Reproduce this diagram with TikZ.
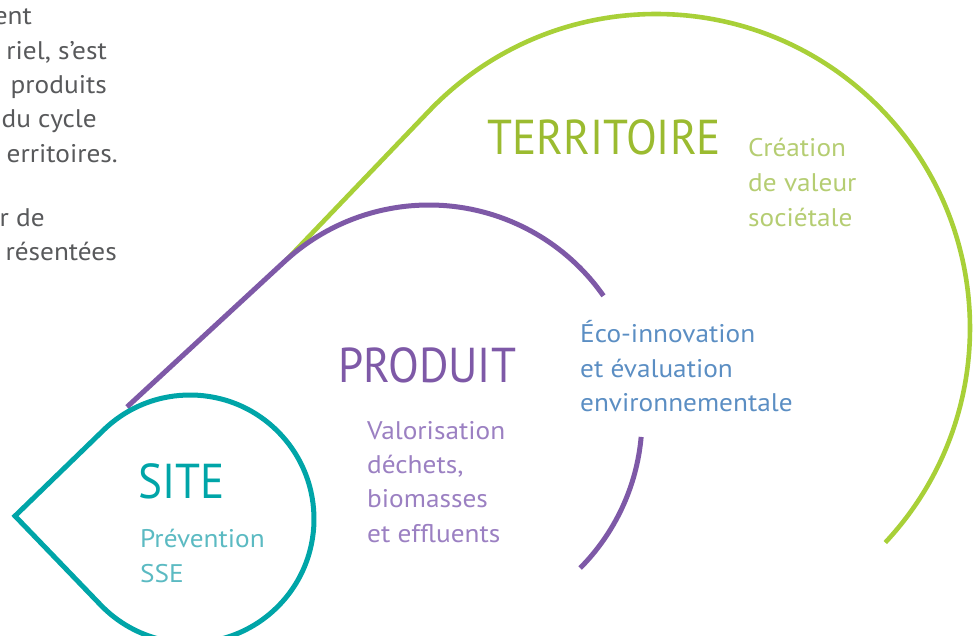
\documentclass[tikz,border=0pt]{standalone}
\usepackage{fontspec}
\setmainfont{PT Sans}[FakeStretch=1.07]
\newfontfamily\titlefont[FakeStretch=0.92]{PT Sans}
\usetikzlibrary{calc}
\definecolor{tealL}{HTML}{00A5A8}
\definecolor{tealS}{HTML}{5BBAC2}
\definecolor{purpL}{HTML}{7E59A7}
\definecolor{purpS}{HTML}{9B80C2}
\definecolor{greenL}{HTML}{A8D038}
\definecolor{greenT}{HTML}{9BBB30}
\definecolor{greenS}{HTML}{B5CD72}
\definecolor{blueS}{HTML}{5B8EC3}
\definecolor{greyT}{HTML}{58595B}
\begin{document}
\begin{tikzpicture}[x=1pt,y=-1pt,
  lineA/.style={line width=5pt, line join=miter, line cap=butt},
  titletext/.style={font=\titlefont\fontsize{49}{49}\selectfont, inner sep=0pt, anchor=base west},
  subtext/.style={font=\fontsize{25.5}{30}\selectfont, inner sep=0pt, anchor=base west},
  paratext/.style={font=\fontsize{25.5}{30}\selectfont, inner sep=0pt, anchor=base east, text=greyT}]
\useasboundingbox (0,0) rectangle (978,636);
\clip (0,0) rectangle (978,636);
% centres
\coordinate (c1) at (190,519);
\coordinate (tip) at (15,516);
\coordinate (c2) at (429,418);
\coordinate (p0) at (127,407);
\coordinate (c3) at (656,328);
\coordinate (g0) at ($(c2)+(-131.5:213)$);
% green (territoire)
\draw[lineA, greenL, line width=4.6pt] (g0) -- ($(c3)+(-136.4:314)$) arc[start angle=-136.4, end angle=43.1, radius=314];
% purple (produit)
\draw[lineA, purpL] (p0) -- ($(c2)+(-132.7:213)$) arc[start angle=-132.7, end angle=-35, radius=213];
\draw[lineA, purpL] ($(c2)+(5.1:213)$) arc[start angle=5.1, end angle=44.8, radius=213];
% teal (site)
\draw[lineA, tealL] (tip) -- ($(c1)+(-134.1:124)$) arc[start angle=-134.1, end angle=136.1, radius=124] -- cycle;
% paragraph fragments
\node[paratext] (pa1) at (32,25) {ent};
\node[paratext] (pa2) at (107,60) {riel, s’est};
\node[paratext] (pa3) at (107,94) {produits};
\node[paratext] (pa4) at (97,128) {du cycle};
\node[paratext] (pa5) at (118,163) {erritoires.};
\node[paratext] (pa6) at (45,227) {r de};
\node[paratext] (pa7) at (117,261) {résentées};
% SITE
\node[titletext, text=tealL] (siteT) at (138,498) {SITE};
\node[subtext, text=tealS] (siteA) at (140,547) {Prévention};
\node[subtext, text=tealS] (siteB) at (140,582) {SSE};
% PRODUIT
\node[titletext, text=purpL] (prodT) at (338,383) {PRODUIT};
\node[subtext, text=purpS] (prodA) at (367,439) {Valorisation};
\node[subtext, text=purpS] (prodB) at (367,473) {déchets,};
\node[subtext, text=purpS] (prodC) at (367,507) {biomasses};
\node[subtext, text=purpS] (prodD) at (367,542) {et effluents};
% eco-innovation
\node[subtext, text=blueS] (ecoA) at (580,343) {Éco-innovation};
\node[subtext, text=blueS] (ecoB) at (580,378) {et évaluation};
\node[subtext, text=blueS] (ecoC) at (580,412) {environnementale};
% TERRITOIRE
\node[titletext, text=greenT] (terT) at (487,155) {TERRITOIRE};
\node[subtext, text=greenS] (terA) at (748,157) {Création};
\node[subtext, text=greenS] (terB) at (748,192) {de valeur};
\node[subtext, text=greenS] (terC) at (748,227) {sociétale};
\end{tikzpicture}
\end{document}
